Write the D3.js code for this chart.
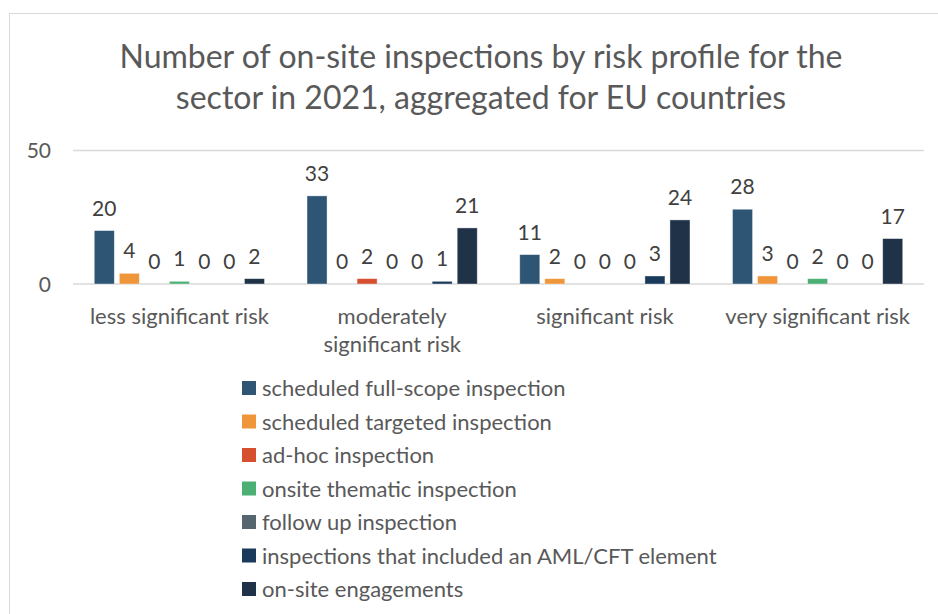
<!DOCTYPE html>
<html lang="en">
<head>
    <meta charset="UTF-8">
    <title>On-site inspections by risk profile</title>
    <script src="https://cdn.jsdelivr.net/npm/d3@7"></script>
    <style type="text/css">
        body { margin: 0; background: #fff; }
        text { font-family: Lato, "Open Sans", sans-serif; }
        .title { fill: #595959; font-size: 32px; }
        .tick text { fill: #595959; font-size: 21px; }
        .xcat text { font-size: 22px; }
        .label { fill: #404040; font-size: 21px; }
        .legend text { fill: #595959; font-size: 22px; }
    </style>
</head>
<body>
<svg id="chart"></svg>
<script>
    // Size of the SVG
    var width = 938;
    var height = 614;

    // Data
    var categories = ["less significant risk", "moderately significant risk", "significant risk", "very significant risk"];
    var seriesNames = [
        "scheduled full-scope inspection",
        "scheduled targeted inspection",
        "ad-hoc inspection",
        "onsite thematic inspection",
        "follow up inspection",
        "inspections that included an AML/CFT element",
        "on-site engagements"
    ];
    var fullScope = [20, 33, 11, 28];
    var targeted = [4, 0, 2, 3];
    var adHoc = [0, 2, 0, 0];
    var thematic = [1, 0, 0, 2];
    var followUp = [0, 0, 0, 0];
    var amlCft = [0, 1, 3, 0];
    var engagements = [2, 21, 24, 17];
    var yTicks = [0, 50];

    var seriesValues = [fullScope, targeted, adHoc, thematic, followUp, amlCft, engagements];
    var colors = ["#2e5574", "#f0963a", "#d64f2e", "#4caf73", "#55666f", "#1a3a5c", "#1f3247"];

    var svg = d3.select("#chart")
        .attr("width", width)
        .attr("height", height);

    // chart frame
    svg.append("rect")
        .attr("x", 9.5).attr("y", 13.5)
        .attr("width", 940).attr("height", 620)
        .attr("fill", "none")
        .attr("stroke", "#d9d9d9");

    // title
    var titleLines = ["Number of on-site inspections by risk profile for the", "sector in 2021, aggregated for EU countries"];
    svg.selectAll(".title")
        .data(titleLines)
        .enter()
        .append("text")
        .attr("class", "title")
        .attr("x", 481)
        .attr("y", function (d, i) { return 68 + i * 41; })
        .attr("text-anchor", "middle")
        .text(function (d) { return d; });

    // scales
    var left = 73, right = 924;
    var x0 = d3.scaleBand().domain(categories).range([left, right]).paddingInner(0.2).paddingOuter(0.1);
    var x1 = d3.scaleBand().domain(d3.range(seriesNames.length)).range([0, x0.bandwidth()]).paddingInner(0.2);
    var y = d3.scaleLinear().domain([0, 50]).range([284, 150.5]);

    // gridlines
    svg.selectAll(".grid")
        .data(yTicks)
        .enter()
        .append("line")
        .attr("x1", left).attr("x2", right)
        .attr("y1", function (d) { return y(d); })
        .attr("y2", function (d) { return y(d); })
        .attr("stroke", "#d9d9d9")
        .attr("stroke-width", 1.5);

    // y axis labels
    var yAxis = svg.append("g")
        .attr("transform", "translate(" + (left - 14) + ",0)")
        .call(d3.axisLeft(y).tickValues(yTicks).tickSize(0).tickPadding(8));
    yAxis.select(".domain").remove();
    yAxis.selectAll(".tick text").attr("dy", "0.35em").attr("font-family", null).attr("font-size", null);

    // x axis labels
    var xAxis = svg.append("g")
        .attr("class", "xcat")
        .attr("transform", "translate(0,284)")
        .call(d3.axisBottom(x0).tickSize(0).tickFormat(""));
    xAxis.select(".domain").remove();
    var catLines = [["less significant risk"], ["moderately", "significant risk"], ["significant risk"], ["very significant risk"]];
    xAxis.selectAll(".tick").append("text")
        .attr("text-anchor", "middle")
        .each(function (d, i) {
            var t = d3.select(this);
            catLines[i].forEach(function (line, j) {
                t.append("tspan").attr("x", 0).attr("y", 40 + j * 28).text(line);
            });
        });

    // bars
    var groups = svg.selectAll(".group")
        .data(categories)
        .enter()
        .append("g")
        .attr("transform", function (d) { return "translate(" + x0(d) + ",0)"; });

    groups.each(function (cat, ci) {
        var g = d3.select(this);
        var vals = seriesValues.map(function (s, si) { return {s: si, v: s[ci]}; });
        g.selectAll("rect")
            .data(vals)
            .enter()
            .append("rect")
            .attr("x", function (d) { return x1(d.s); })
            .attr("width", x1.bandwidth())
            .attr("y", function (d) { return y(d.v); })
            .attr("height", function (d) { return y(0) - y(d.v); })
            .attr("fill", function (d) { return colors[d.s]; })
            .attr("stroke", "#ffffff")
            .attr("stroke-opacity", 0.5)
            .attr("stroke-width", 0.75);
        g.selectAll(".label")
            .data(vals)
            .enter()
            .append("text")
            .attr("class", "label")
            .attr("x", function (d) { return x1(d.s) + x1.bandwidth() / 2; })
            .attr("y", function (d) { return y(d.v) - 15; })
            .attr("text-anchor", "middle")
            .text(function (d) { return d.v; });
    });

    // legend
    var legend = svg.append("g").attr("class", "legend");
    var items = legend.selectAll("g")
        .data(seriesNames)
        .enter()
        .append("g")
        .attr("transform", function (d, i) { return "translate(242," + (388 + i * 33.5) + ")"; });
    items.append("rect")
        .attr("x", 0).attr("y", -7)
        .attr("width", 14).attr("height", 14)
        .attr("fill", function (d, i) { return colors[i]; });
    items.append("text")
        .attr("x", 20)
        .attr("y", 8)
        .text(function (d) { return d; });
</script>
</body>
</html>
